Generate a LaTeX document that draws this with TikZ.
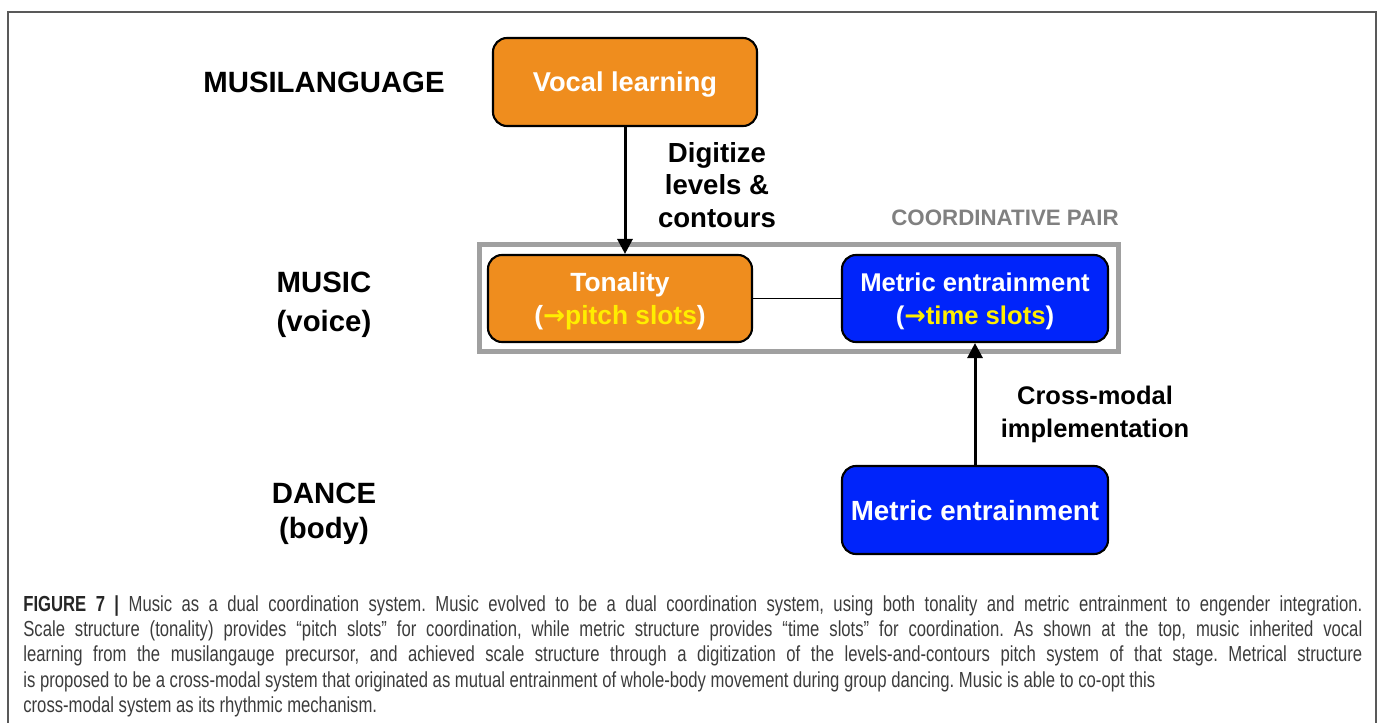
\documentclass[tikz,border=0pt]{standalone}
\usepackage{fontspec}
\setmainfont{Liberation Sans}
\newfontfamily\capfont[FakeStretch=0.765]{Liberation Sans}
\newfontfamily\arrowfont{DejaVu Sans}
\usepackage{xcolor}
\usetikzlibrary{positioning, arrows.meta}
\frenchspacing

\definecolor{boxorange}{RGB}{239,141,30}
\definecolor{boxblue}{RGB}{0,36,250}
\definecolor{slotyellow}{RGB}{255,238,0}
\definecolor{pairgray}{RGB}{160,160,160}
\definecolor{captext}{RGB}{60,60,60}

% one unit = one pixel of the figure
\newdimen\pxu \pxu=0.02cm
\newcommand{\capline}[1]{\makebox[1339\pxu][s]{#1}}
\newcommand{\slot}[1]{\textcolor{slotyellow}{{\arrowfont\bfseries →}#1}}

\tikzset{
  stagebox/.style={draw=black, line width=1.2pt, rounded corners=14\pxu, text=white,
    font=\bfseries\fontsize{15.5}{19}\selectfont, align=center, text depth=0pt,
    minimum width=264\pxu, minimum height=88\pxu, inner sep=0pt},
  vocalbox/.style={stagebox, fill=boxorange},
  metricbox/.style={stagebox, fill=boxblue},
  levellabel/.style={font=\bfseries\fontsize{16.7}{22}\selectfont, align=center},
  steplabel/.style={font=\bfseries\fontsize{15.7}{18.5}\selectfont, align=center},
  link/.style={line width=1.7pt, -{Triangle[length=0.3cm, width=0.3cm]}},
}

\begin{document}
\begin{tikzpicture}[x=1\pxu, y=-1\pxu]
  \useasboundingbox (0,0) rectangle (1379,723);
  % open frame round the figure
  \draw[line width=1.1pt, draw=black!65] (8,723) -- (8,12) -- (1376,12) -- (1376,723);

  % levels on the left
  \node[levellabel] (musilang) at (324,82) {MUSILANGUAGE};
  \node[levellabel] (music) at (324,305) {MUSIC\\(voice)};
  \node[levellabel, font=\bfseries\fontsize{16.7}{20}\selectfont] (dance) at (324,514) {DANCE\\(body)};

  % coordinative pair
  \node[draw=pairgray, line width=5\pxu, fill=white, minimum width=639\pxu, minimum height=107\pxu] (pair) at (799,298) {};
  \node[font=\bfseries\fontsize{12.7}{15}\selectfont, text=black!50] (pairlabel) at (1005,218) {COORDINATIVE PAIR};

  % boxes
  \node[vocalbox] (vocal) at (625,82) {Vocal learning};
  \node[vocalbox, font=\bfseries\fontsize{15}{18.8}\selectfont, minimum height=87\pxu] (tonal) at (620,298.5)
    {Tonality\\(\slot{pitch slots})};
  \node[metricbox, font=\bfseries\fontsize{14.6}{18.8}\selectfont, minimum width=266\pxu, minimum height=87\pxu] (metric) at (975,298.5)
    {Metric entrainment\\(\slot{time slots})};
  \node[metricbox, font=\bfseries\fontsize{15.8}{19}\selectfont, minimum width=266\pxu] (dancemetric) at (975,510) {Metric entrainment};

  % connectors
  \draw[link] (vocal.south) -- (vocal.south |- tonal.north);
  \draw[link] (dancemetric.north) -- (metric.south);
  \draw[line width=1.1pt] (tonal.east) -- (metric.west);

  \node[steplabel] (digitize) at (717,185) {Digitize\\levels \&\\contours};
  \node[steplabel, font=\bfseries\fontsize{14.5}{18.8}\selectfont] (crossmodal) at (1095,414) {Cross-modal\\implementation};

  % caption
  \node[anchor=north west, inner sep=0pt, font=\capfont\fontsize{12.4}{14.4}\selectfont, text=captext, align=left] (caption) at (23,595) {%
    \capline{{\color{black!85}\textbf{FIGURE 7 |}} Music as a dual coordination system. Music evolved to be a dual coordination system, using both tonality and metric entrainment to engender integration.}\\
    \capline{Scale structure (tonality) provides “pitch slots” for coordination, while metric structure provides “time slots” for coordination. As shown at the top, music inherited vocal}\\
    \capline{learning from the musilangauge precursor, and achieved scale structure through a digitization of the levels-and-contours pitch system of that stage. Metrical structure}\\
    is proposed to be a cross-modal system that originated as mutual entrainment of whole-body movement during group dancing. Music is able to co-opt this\\
    cross-modal system as its rhythmic mechanism.};
\end{tikzpicture}
\end{document}
